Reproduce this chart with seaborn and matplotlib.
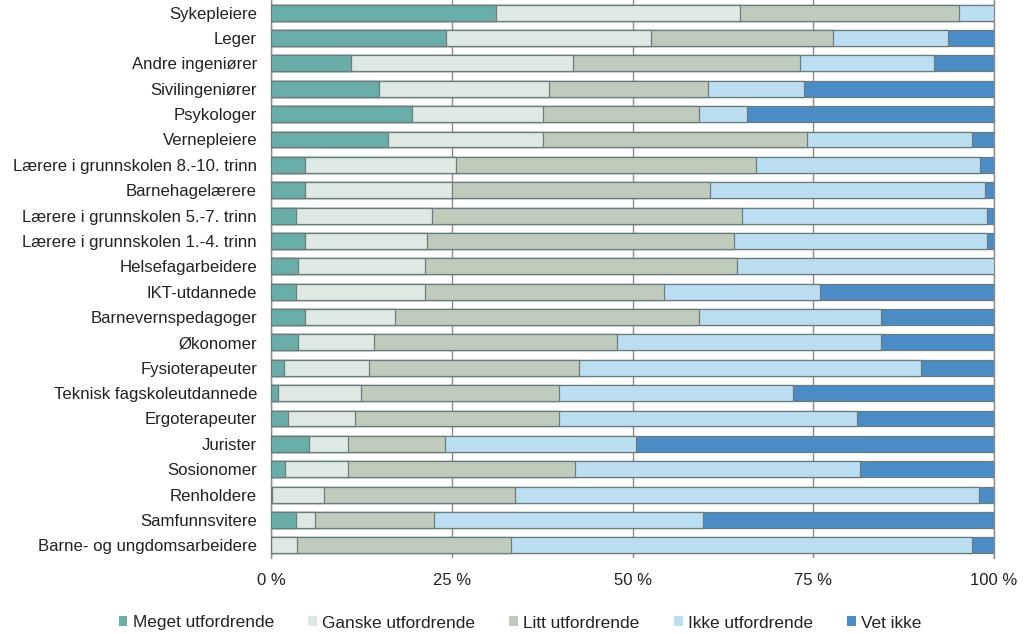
import numpy as np
import pandas as pd
import matplotlib
matplotlib.use("Agg")
import matplotlib.pyplot as plt
from matplotlib.patches import Patch
import seaborn as sns

categories = [
    "Sykepleiere", "Leger", "Andre ingeniører", "Sivilingeniører", "Psykologer",
    "Vernepleiere", "Lærere i grunnskolen 8.-10. trinn", "Barnehagelærere",
    "Lærere i grunnskolen 5.-7. trinn", "Lærere i grunnskolen 1.-4. trinn",
    "Helsefagarbeidere", "IKT-utdannede", "Barnevernspedagoger", "Økonomer",
    "Fysioterapeuter", "Teknisk fagskoleutdannede", "Ergoterapeuter", "Jurister",
    "Sosionomer", "Renholdere", "Samfunnsvitere", "Barne- og ungdomsarbeidere",
]

series_names = ["Meget utfordrende", "Ganske utfordrende", "Litt utfordrende",
                "Ikke utfordrende", "Vet ikke"]

meget  = [31.1, 24.2, 11.0, 14.9, 19.5, 16.2, 4.7, 4.7, 3.4, 4.7, 3.7, 3.4, 4.7, 3.7, 1.8, 0.9, 2.4, 5.2, 1.9, 0.2, 3.4, 0.0]
ganske = [33.8, 28.3, 30.8, 23.6, 18.1, 21.4, 20.9, 20.3, 18.9, 16.9, 17.6, 17.9, 12.4, 10.6, 11.7, 11.6, 9.2, 5.5, 8.8, 7.1, 2.7, 3.6]
litt   = [30.3, 25.2, 31.4, 21.9, 21.6, 36.5, 41.5, 35.7, 42.9, 42.4, 43.1, 33.0, 42.1, 33.6, 29.1, 27.4, 28.3, 13.4, 31.4, 26.5, 16.5, 29.6]
ikke   = [4.8, 15.9, 18.5, 13.3, 6.6, 22.9, 31.0, 38.0, 33.8, 35.0, 35.6, 21.6, 25.2, 36.5, 47.3, 32.3, 41.2, 26.4, 39.3, 64.1, 37.1, 63.8]
vet    = [0.0, 6.4, 8.3, 26.3, 34.2, 3.0, 1.9, 1.3, 1.0, 1.0, 0.0, 24.1, 15.6, 15.6, 10.1, 27.8, 18.9, 49.5, 18.6, 2.1, 40.3, 3.0]

tick_values = [0, 25, 50, 75, 100]
tick_labels = ["0 %", "25 %", "50 %", "75 %", "100 %"]

colors = ["#6aaea9", "#dde9e2", "#c0cbbb", "#bcdef3", "#4b8bc6"]
edge = "#6a7c7c"

sns.set_theme(style="white")
plt.rcParams["font.family"] = ["Liberation Sans", "DejaVu Sans"]

vals = np.array([meget, ganske, litt, ikke, vet], dtype=float)
vals = vals / vals.sum(axis=0) * 100.0
cum = np.cumsum(vals, axis=0)

fig = plt.figure(figsize=(10.24, 6.34), dpi=100)
ax = fig.add_axes([271 / 1024, (634 - 558) / 634, 723 / 1024, 558 / 634])

for i in range(4, -1, -1):
    df = pd.DataFrame({"cat": categories, "val": cum[i]})
    sns.barplot(data=df, x="val", y="cat", order=categories, orient="h",
                color=colors[i], saturation=1, width=0.63,
                edgecolor=edge, linewidth=0.9, ax=ax, zorder=3)

ax.set_xlim(0, 100)
ax.set_ylim(len(categories) - 0.5, -0.5)
ax.set_xticks(tick_values)
ax.set_xticklabels(tick_labels)
ax.set_xlabel("")
ax.set_ylabel("")
ax.xaxis.grid(True, color="#8c8c8c", linewidth=1.0, zorder=0)
ax.set_axisbelow(True)
for s in ["top", "bottom"]:
    ax.spines[s].set_visible(False)
for s in ["left", "right"]:
    ax.spines[s].set_visible(True)
    ax.spines[s].set_color("#8c8c8c")
    ax.spines[s].set_linewidth(1.0)
ax.tick_params(axis="x", length=0, pad=11, labelsize=12, colors="#222222")
ax.tick_params(axis="y", length=0, pad=10, labelsize=12.1, colors="#222222")

handles = [Patch(facecolor=c, edgecolor="none") for c in colors]
fig.legend(handles, series_names, loc="center", bbox_to_anchor=(520 / 1024, 1 - 623 / 634),
           ncol=5, frameon=False, fontsize=12.4, handlelength=0.5, handleheight=0.5,
           handletextpad=0.3, columnspacing=2.0, labelcolor="#222222")

fig.savefig("out.png", dpi=100)
